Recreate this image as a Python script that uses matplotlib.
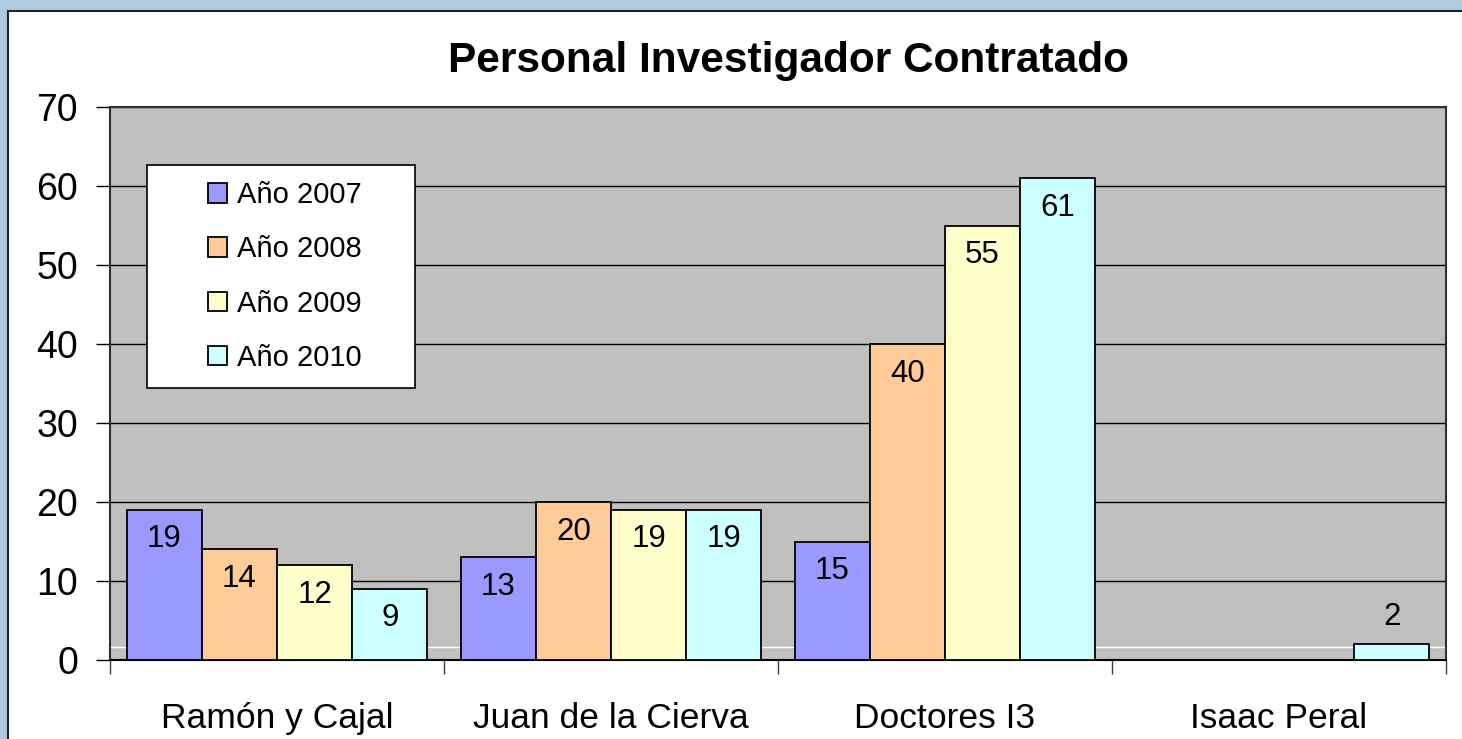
import matplotlib
matplotlib.use("Agg")
import matplotlib.pyplot as plt
import numpy as np
from matplotlib.patches import Rectangle

categories = ["Ramón y Cajal", "Juan de la Cierva", "Doctores I3", "Isaac Peral"]
series_names = ["Año 2007", "Año 2008", "Año 2009", "Año 2010"]
v2007 = [19, 13, 15, 0]
v2008 = [14, 20, 40, 0]
v2009 = [12, 19, 55, 0]
v2010 = [9, 19, 61, 2]
colors = ["#9999FF", "#FFCC99", "#FFFFCC", "#CCFFFF"]
yticks = [0, 10, 20, 30, 40, 50, 60, 70]
title = "Personal Investigador Contratado"

plt.rcParams['font.family'] = ['Liberation Sans', 'DejaVu Sans']

W, H = 1462, 739
fig = plt.figure(figsize=(W / 100, H / 100), dpi=100)
fig.patch.set_facecolor("#B0CBE0")
# white chart panel
panel = Rectangle((8 / W, 0), 1 - 8 / W, 1 - 11 / H, transform=fig.transFigure,
                  facecolor="white", edgecolor="none", zorder=0)
fig.add_artist(panel)
fig.add_artist(plt.Line2D([8 / W, 1], [1 - 11 / H, 1 - 11 / H], transform=fig.transFigure,
                          color="#1A2535", lw=1.5))
fig.add_artist(plt.Line2D([8 / W, 8 / W], [0, 1 - 11 / H], transform=fig.transFigure,
                          color="#1A2535", lw=1.5))

AX_L, AX_R, AX_T, AX_B = 110, 1446, 107, 660
ax = fig.add_axes([AX_L / W, 1 - AX_B / H, (AX_R - AX_L) / W, (AX_B - AX_T) / H])
ax.set_facecolor("#C0C0C0")

series = [v2007, v2008, v2009, v2010]
x = np.arange(len(categories))
bw = 0.9 / 4
for i, (vals, c, name) in enumerate(zip(series, colors, series_names)):
    pos = x - 0.45 + bw * (i + 0.5)
    ax.bar(pos, vals, width=bw, color=c, edgecolor="black", linewidth=1.3,
           label=name, zorder=3)
    for xp, v in zip(pos, vals):
        if v == 0:
            continue
        if v >= 5:
            ax.annotate(str(v), (xp, v), xytext=(0, -10.5), textcoords="offset points",
                        ha="center", va="top", fontsize=22.5, zorder=4)
        else:
            ax.annotate(str(v), (xp, v), xytext=(0, 9), textcoords="offset points",
                        ha="center", va="bottom", fontsize=22.5, zorder=4)

ax.set_xlim(-0.5, len(categories) - 0.5)
ax.set_ylim(0, 70)
ax.set_yticks(yticks)
ax.set_yticklabels([str(t) for t in yticks], fontsize=27)
ax.yaxis.grid(True, color="black", linewidth=1)
ax.axhline(1.6, color="white", lw=1, zorder=2)
ax.set_axisbelow(True)

ax.set_xticks(x)
ax.set_xticklabels(categories, fontsize=25.5)
ax.tick_params(axis="x", length=0, pad=30)
ax.set_xticks(np.arange(-0.5, len(categories)), minor=True)
ax.tick_params(axis="x", which="minor", length=10, width=1, color="#404040")
ax.tick_params(axis="y", length=10, width=1, pad=13)

for s in ax.spines.values():
    s.set_color("#303030")
    s.set_linewidth(1.5)
ax.spines["bottom"].set_color("black")

ax.set_title(title, fontsize=30.5, fontweight="bold", pad=25,
             x=(788 - AX_L) / (AX_R - AX_L))

# legend frame (white box with black border)
LX0, LX1, LY0, LY1 = 147, 415, 165, 388
ax_w, ax_h = AX_R - AX_L, AX_B - AX_T
frame = Rectangle(((LX0 - AX_L) / ax_w, (AX_B - LY1) / ax_h), (LX1 - LX0) / ax_w, (LY1 - LY0) / ax_h,
                  transform=ax.transAxes, facecolor="white", edgecolor="black", lw=1.2, zorder=5)
ax.add_patch(frame)
leg = ax.legend(loc="center", bbox_to_anchor=(((LX0 + LX1) / 2 + 4 - AX_L) / ax_w, (AX_B - (LY0 + LY1) / 2) / ax_h),
                fontsize=21, frameon=False,
                handlelength=0.65, handleheight=0.65, handletextpad=0.35,
                labelspacing=0.9, borderpad=0, borderaxespad=0)
leg.set_zorder(6)

fig.savefig("out.png", dpi=100, facecolor=fig.get_facecolor())
